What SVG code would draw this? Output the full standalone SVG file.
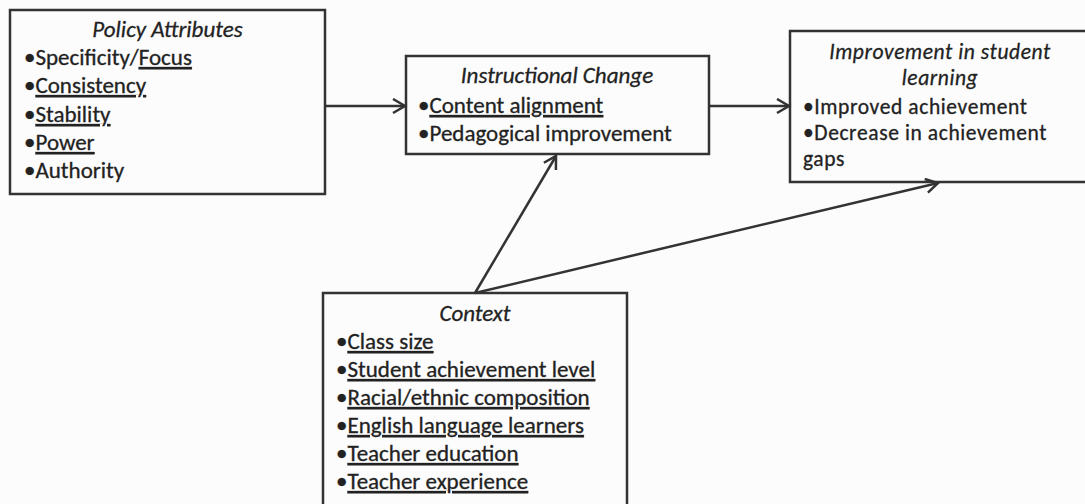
<svg xmlns="http://www.w3.org/2000/svg" width="1085" height="504" viewBox="0 0 1085 504">
  <style>
    text { font-family: Carlito, Lato, "Open Sans", sans-serif; font-size: 23px; fill: #222; stroke: #222; stroke-width: 0.3; }
    .title { font-style: italic; text-anchor: middle; }
    .u { text-decoration: underline; }
    .tight { font-size: 21.5px; letter-spacing: 0.6px; }
    .box { fill: none; stroke: #333; stroke-width: 2.5; }
    .conn { fill: none; stroke: #333; stroke-width: 2.5; marker-end: url(#arrow); }
  </style>
  <defs>
    <marker id="arrow" markerUnits="userSpaceOnUse" markerWidth="16" markerHeight="18" refX="13" refY="8" orient="auto">
      <path d="M1,1 L13,8 L1,15" fill="none" stroke="#333" stroke-width="2.5"/>
    </marker>
  </defs>
  <rect x="0" y="0" width="1085" height="504" fill="#fcfcfc"/>

  <g id="policy-attributes">
    <rect class="box" x="10" y="10" width="315" height="184"/>
    <text class="title" x="167.5" y="37">Policy Attributes</text>
    <text x="24" y="65">•Specificity/<tspan class="u">Focus</tspan><tspan x="24" dy="28">•</tspan><tspan class="u">Consistency</tspan><tspan x="24" dy="29">•</tspan><tspan class="u">Stability</tspan><tspan x="24" dy="28">•</tspan><tspan class="u">Power</tspan><tspan x="24" dy="28">•Authority</tspan></text>
  </g>

  <g id="instructional-change">
    <rect class="box" x="406" y="56" width="303" height="98"/>
    <text class="title" x="557" y="83">Instructional Change</text>
    <text x="418" y="113">•<tspan class="u">Content alignment</tspan><tspan x="418" dy="28">•Pedagogical improvement</tspan></text>
  </g>

  <g id="improvement-student-learning">
    <rect class="box" x="790" y="31" width="310" height="151"/>
    <text class="title tight" x="940" y="59">Improvement in student<tspan x="940" dy="26">learning</tspan></text>
    <text class="tight" x="803" y="114">•Improved achievement<tspan x="803" dy="26">•Decrease in achievement</tspan><tspan x="803" dy="26">gaps</tspan></text>
  </g>

  <g id="context">
    <rect class="box" x="323" y="293" width="304" height="230"/>
    <text class="title" x="475" y="321">Context</text>
    <text x="336" y="349">•<tspan class="u">Class size</tspan><tspan x="336" dy="28">•</tspan><tspan class="u">Student achievement level</tspan><tspan x="336" dy="28">•</tspan><tspan class="u">Racial/ethnic composition</tspan><tspan x="336" dy="28">•</tspan><tspan class="u">English language learners</tspan><tspan x="336" dy="28">•</tspan><tspan class="u">Teacher education</tspan><tspan x="336" dy="28">•</tspan><tspan class="u">Teacher experience</tspan></text>
  </g>

  <g id="connectors">
    <line class="conn" x1="325" y1="106" x2="405" y2="106"/>
    <line class="conn" x1="709" y1="106" x2="789" y2="106"/>
    <line class="conn" x1="475" y1="293" x2="556" y2="156"/>
    <line class="conn" x1="475" y1="293" x2="938" y2="183"/>
  </g>
</svg>
